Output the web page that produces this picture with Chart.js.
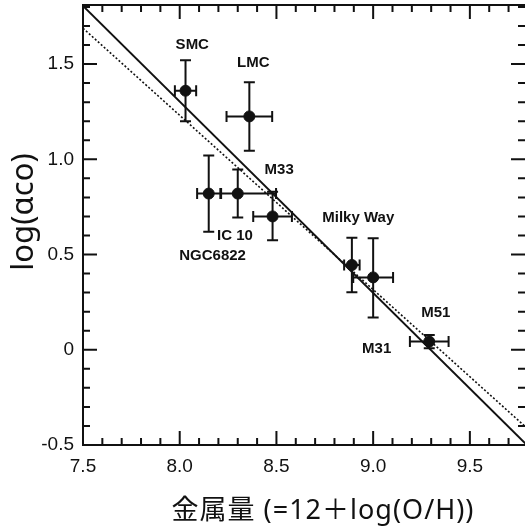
<!DOCTYPE html>
<html>
<head>
<meta charset="utf-8">
<script src="https://cdn.jsdelivr.net/npm/chart.js@4.4.0/dist/chart.umd.min.js"></script>
<style>
    html, body { margin: 0; padding: 0; background: #fff; }
    #wrap { width: 525px; height: 531px; }
</style>
</head>
<body>
<div id="wrap"><canvas id="alphaChart"></canvas></div>
<script>
// Galaxies: metallicity 12+log(O/H) vs log(alpha_CO)
const galaxies = ['SMC', 'LMC', 'NGC6822', 'IC 10', 'M33', 'Milky Way', 'M31', 'M51'];
const metallicity = [8.03, 8.36, 8.15, 8.30, 8.48, 8.89, 9.00, 9.29];
const logAlpha = [1.36, 1.225, 0.82, 0.82, 0.70, 0.445, 0.38, 0.043];

// Error bars (low / high side)
const xErrLow = [0.055, 0.118, 0.06, 0.086, 0.10, 0.04, 0.103, 0.10];
const xErrHigh = [0.055, 0.118, 0.06, 0.198, 0.10, 0.04, 0.103, 0.10];
const yErrLow = [0.16, 0.18, 0.20, 0.126, 0.125, 0.143, 0.21, 0.035];
const yErrHigh = [0.16, 0.18, 0.20, 0.126, 0.13, 0.143, 0.206, 0.035];

// Fit lines, given by their end points
const fitX = [7.5, 9.8];
const solidFitY = [1.805, -0.505];
const dottedFitY = [1.688, -0.416];

// Axis tick labels
const xTicks = [7.5, 8.0, 8.5, 9.0, 9.5];
const yTicks = [-0.5, 0, 0.5, 1.0, 1.5];

// Name labels placed next to the points
const labelText = ['SMC', 'LMC', 'M33', 'IC 10', 'NGC6822', 'Milky Way', 'M51', 'M31'];
const labelX = [8.065, 8.38, 8.514, 8.286, 8.17, 8.923, 9.324, 9.018];
const labelY = [1.60, 1.504, 0.944, 0.597, 0.492, 0.693, 0.192, 0.005];

const INK = '#111';

const framePlugin = {
    id: 'frame',
    beforeDatasetsDraw(chart) {
        // error bars under the markers
        const { ctx } = chart;
        const xs = chart.scales.x, ys = chart.scales.y;
        const cap = 5.5;
        ctx.save();
        ctx.strokeStyle = INK;
        ctx.lineWidth = 2;
        metallicity.forEach((mx, i) => {
            const px = xs.getPixelForValue(mx);
            const py = ys.getPixelForValue(logAlpha[i]);
            const x0 = xs.getPixelForValue(mx - xErrLow[i]);
            const x1 = xs.getPixelForValue(mx + xErrHigh[i]);
            const y0 = ys.getPixelForValue(logAlpha[i] - yErrLow[i]);
            const y1 = ys.getPixelForValue(logAlpha[i] + yErrHigh[i]);
            ctx.beginPath();
            ctx.moveTo(x0, py); ctx.lineTo(x1, py);
            ctx.moveTo(x0, py - cap); ctx.lineTo(x0, py + cap);
            ctx.moveTo(x1, py - cap); ctx.lineTo(x1, py + cap);
            ctx.moveTo(px, y0); ctx.lineTo(px, y1);
            ctx.moveTo(px - cap, y0); ctx.lineTo(px + cap, y0);
            ctx.moveTo(px - cap, y1); ctx.lineTo(px + cap, y1);
            ctx.stroke();
        });
        ctx.restore();
    },
    afterDraw(chart) {
        const { ctx, chartArea: a } = chart;
        const xs = chart.scales.x, ys = chart.scales.y;
        ctx.save();
        ctx.strokeStyle = INK;
        ctx.lineWidth = 2;

        // frame (right side falls on the page edge)
        ctx.beginPath();
        ctx.moveTo(a.right + 2, a.top);
        ctx.lineTo(a.left, a.top);
        ctx.lineTo(a.left, a.bottom);
        ctx.lineTo(a.right + 2, a.bottom);
        ctx.stroke();

        // inward ticks, every 0.1 with long ones every 0.5
        ctx.beginPath();
        for (let i = 0; i <= 22; i++) {
            const px = xs.getPixelForValue(7.5 + i * 0.1);
            const len = i % 5 === 0 ? 14 : 7;
            ctx.moveTo(px, a.bottom); ctx.lineTo(px, a.bottom - len);
            ctx.moveTo(px, a.top); ctx.lineTo(px, a.top + len);
        }
        for (let i = 0; i <= 23; i++) {
            const py = ys.getPixelForValue(-0.5 + i * 0.1);
            const len = i % 5 === 0 ? 14 : 7;
            ctx.moveTo(a.left, py); ctx.lineTo(a.left + len, py);
            ctx.moveTo(a.right, py); ctx.lineTo(a.right - len, py);
        }
        ctx.stroke();

        // galaxy names
        ctx.fillStyle = INK;
        ctx.font = "bold 15px 'Liberation Sans', Arial, sans-serif";
        ctx.textAlign = 'center';
        ctx.textBaseline = 'middle';
        labelText.forEach((t, i) => {
            ctx.fillText(t, xs.getPixelForValue(labelX[i]), ys.getPixelForValue(labelY[i]));
        });

        // axis titles
        ctx.font = "27px 'Noto Sans', 'Noto Sans CJK JP', sans-serif";
        ctx.letterSpacing = '1px';
        ctx.fillText('金属量 (=12＋log(O/H))', a.left + 240, a.bottom + 66);
        ctx.letterSpacing = '0px';
        ctx.translate(24, a.top + 207);
        ctx.rotate(-Math.PI / 2);
        ctx.font = "31px 'Noto Sans', sans-serif";
        ctx.fillText('log(αco)', 0, 0);
        ctx.restore();
    }
};

const tickFont = { family: "'Liberation Sans', Arial, sans-serif", size: 19 };

// keep the plot box where the reference has it
function noPadding(scale) {
    scale.paddingTop = 0;
    scale.paddingBottom = 0;
    scale.paddingLeft = 0;
    scale.paddingRight = 0;
}

new Chart(document.getElementById('alphaChart'), {
    type: 'scatter',
    data: {
        datasets: [
            {
                label: 'Galaxies',
                data: metallicity.map((x, i) => ({ x: x, y: logAlpha[i] })),
                backgroundColor: INK,
                borderColor: INK,
                pointRadius: 5.5,
                pointHoverRadius: 5.5
            },
            {
                label: 'Fit',
                data: fitX.map((x, i) => ({ x: x, y: solidFitY[i] })),
                showLine: true,
                borderColor: INK,
                borderWidth: 2,
                pointRadius: 0
            },
            {
                label: 'Fit (dotted)',
                data: fitX.map((x, i) => ({ x: x, y: dottedFitY[i] })),
                showLine: true,
                borderColor: INK,
                borderWidth: 1.6,
                borderDash: [2, 2],
                pointRadius: 0
            }
        ]
    },
    options: {
        responsive: true,
        maintainAspectRatio: false,
        animation: false,
        layout: { autoPadding: false, padding: { top: 5, right: 0, left: 0, bottom: 0 } },
        plugins: {
            legend: { display: false },
            tooltip: { enabled: false }
        },
        scales: {
            x: {
                type: 'linear',
                min: 7.5,
                max: 9.785,
                grid: { display: false, drawTicks: false },
                border: { display: false },
                afterBuildTicks: (scale) => { scale.ticks = xTicks.map(v => ({ value: v })); },
                afterFit: (scale) => { scale.height = 86; noPadding(scale); },
                ticks: {
                    font: tickFont,
                    color: INK,
                    padding: 10,
                    maxRotation: 0,
                    callback: (v) => Number(v).toFixed(1)
                }
            },
            y: {
                type: 'linear',
                min: -0.5,
                max: 1.81,
                grid: { display: false, drawTicks: false },
                border: { display: false },
                afterBuildTicks: (scale) => { scale.ticks = yTicks.map(v => ({ value: v })); },
                afterFit: (scale) => { scale.width = 83; noPadding(scale); },
                ticks: {
                    font: tickFont,
                    color: INK,
                    padding: 9,
                    callback: (v) => v === 0 ? '0' : Number(v).toFixed(1)
                }
            }
        }
    },
    plugins: [framePlugin]
});
</script>
</body>
</html>
